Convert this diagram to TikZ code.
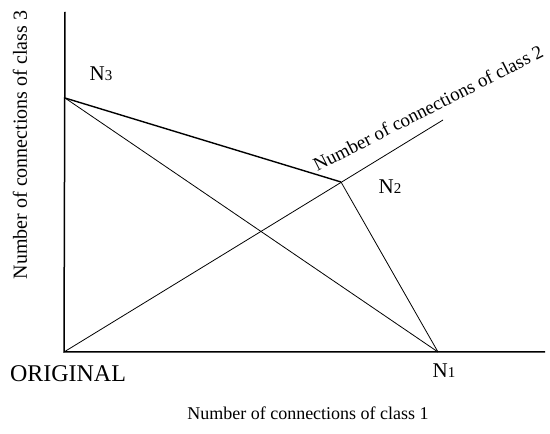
\documentclass[tikz,border=0pt]{standalone}
\usepackage{fontspec}
\setmainfont{Liberation Serif}
\begin{document}
\begin{tikzpicture}[x=1pt,y=1pt,
  axis/.style={line width=1.5pt},
  thinline/.style={line width=0.8pt},
  thickline/.style={line width=1.4pt},
  lbl/.style={inner sep=0pt,font=\fontsize{18}{20}\selectfont},
  nlbl/.style={inner sep=0pt,font=\fontsize{21}{23}\selectfont}]
\useasboundingbox (0,0) rectangle (550,434);
\coordinate (O) at (64,82);
\coordinate (ytop) at (65,422);
\coordinate (xend) at (545,82);
\coordinate (N1) at (438,82);
\coordinate (N3) at (65,336);
\coordinate (N2) at (341,252);
\coordinate (c2end) at (443,314);
\draw[axis] (ytop) -- (O) -- (xend);
\draw[thinline] (O) -- (c2end);
\draw[thickline] (N3) -- (N2);
\draw[thinline] (N2) -- (N1);
\draw[thinline] (N3) -- (N1);
\node[nlbl] (l3) at (101,360) {N{\fontsize{15}{17}\selectfont 3}};
\node[nlbl] (l2) at (390,247) {N{\fontsize{15}{17}\selectfont 2}};
\node[nlbl] (l1) at (444,63) {N{\fontsize{15}{17}\selectfont 1}};
\node[inner sep=0pt,font=\fontsize{24}{26}\selectfont] (orig) at (68,60) {ORIGINAL};
\node[lbl] (xl) at (308,21) {Number of connections of class 1};
\node[lbl,font=\fontsize{20}{22}\selectfont,rotate=90] (yl) at (20,289) {Number of connections of class 3};
\node[lbl,font=\fontsize{19}{21}\selectfont,rotate=27] (zl) at (428,326) {Number of connections of class 2};
\end{tikzpicture}
\end{document}
